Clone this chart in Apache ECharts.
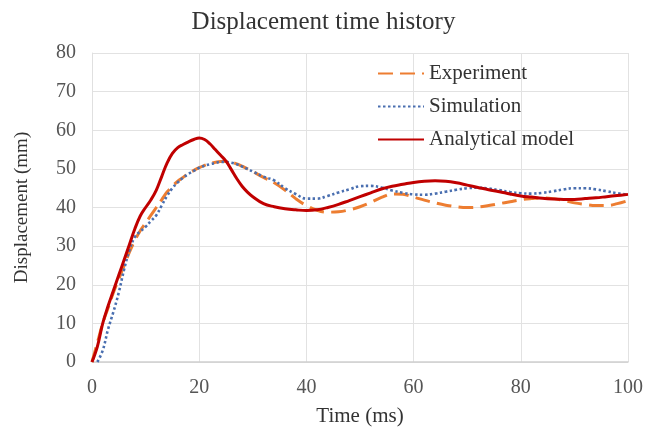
<!DOCTYPE html>
<html>
<head>
<meta charset="utf-8">
<script src="https://cdn.jsdelivr.net/npm/echarts@6/dist/echarts.min.js"></script>
<style>
html,body{margin:0;padding:0;background:#fff;}
#c{width:647px;height:432px;}
</style>
</head>
<body>
<div id="c"></div>
<script>
var times = [0,1,2,3,4,5,6,7,8,9,10,11,12,13,14,15,16,17,18,19,20,21,22,23,24,25,26,27,28,29,30,32,34,36,38,40,42,44,46,48,50,52,54,56,58,60,62,64,66,68,70,72,74,76,78,80,82,84,86,88,90,92,94,96,98,100];
var experiment = [0,5,10,14,18,21.5,25,28.5,31.5,34,36,38,40,42,44,45.5,46.8,47.8,48.8,49.6,50.3,50.9,51.4,51.7,51.9,51.9,51.7,51.3,50.7,50,49.3,47.8,46.4,44.5,42.3,40.5,39.3,38.8,38.9,39.4,40.2,41.3,42.6,43.5,43.4,42.7,41.9,41.2,40.6,40.2,40,40.1,40.5,41,41.5,42,42.3,42.5,42.3,41.8,41.2,40.8,40.5,40.5,41,41.8];
var simulation = [null,0,3,8.5,13,18,24,29,32.4,33.8,35,36.5,38,40.5,43,45,46.5,47.7,48.7,49.5,50.3,50.8,51.2,51.5,51.8,51.8,51.6,51.2,50.6,50,49.3,48,47,45,43.5,42.3,42.3,43,43.9,44.7,45.5,45.6,45.2,44.4,43.8,43.4,43.3,43.6,44.1,44.6,45,45.1,44.9,44.5,44,43.7,43.6,43.8,44.2,44.7,45,45,44.7,44.2,43.7,43.3];
var analytical = [0,4,10,14.5,18.5,22.5,26.5,30.5,34.5,37.8,40,42,44.5,48,51.5,54,55.5,56.3,57,57.6,58,57.6,56.5,55,53.5,52,49.8,47.5,45.5,44,42.8,41,40.2,39.7,39.4,39.2,39.4,40,40.8,41.8,42.8,43.8,44.8,45.5,46,46.5,46.8,46.9,46.8,46.4,45.8,45.2,44.6,44.1,43.5,43,42.7,42.4,42.2,42.1,42.1,42.3,42.5,42.8,43.1,43.4];
var seriesNames = ['Experiment','Simulation','Analytical model'];

function pairs(vals){ return times.map(function(t,i){ return [t, vals[i]]; }); }

var font = 'Liberation Serif, Times New Roman, serif';
var chart = echarts.init(document.getElementById('c'), null, {renderer:'canvas'});
chart.setOption({
  animation:false,
  backgroundColor:'#fff',
  title:{
    text:'Displacement time history',
    left:'center', top:5,
    textStyle:{fontFamily:font, fontSize:25, fontWeight:'normal', color:'#333'}
  },
  legend:{
    orient:'vertical',
    left:372, top:58,
    itemWidth:46, itemHeight:14, itemGap:12,
    data:seriesNames,
    itemStyle:{opacity:0},
    textStyle:{fontFamily:font, fontSize:21, color:'#333', lineHeight:21}
  },
  grid:{left:92, right:19, top:53, bottom:70, containLabel:false},
  xAxis:{
    type:'value', min:0, max:100, interval:20,
    name:'Time (ms)', nameLocation:'middle', nameGap:44,
    nameTextStyle:{fontFamily:font, fontSize:21, color:'#333'},
    axisLine:{show:true, lineStyle:{color:'#d0d0d0', width:1.5}},
    axisTick:{show:false},
    axisLabel:{fontFamily:font, fontSize:20, color:'#555', margin:16},
    splitLine:{show:true, lineStyle:{color:'#e2e2e2', width:1}}
  },
  yAxis:{
    type:'value', min:0, max:80, interval:10,
    name:'Displacement (mm)', nameLocation:'middle', nameGap:60,
    nameTextStyle:{fontFamily:font, fontSize:19, color:'#333'},
    axisLine:{show:true, lineStyle:{color:'#e0e0e0', width:1}},
    axisTick:{show:false},
    axisLabel:{fontFamily:font, fontSize:20, color:'#555', margin:16},
    splitLine:{show:true, lineStyle:{color:'#e2e2e2', width:1}}
  },
  series:[
    {name:seriesNames[0], type:'line', data:pairs(experiment), smooth:0.4, symbol:'none',
     lineStyle:{color:'#ED7D31', width:3, type:[15,7]}, itemStyle:{color:'#ED7D31'}},
    {name:seriesNames[1], type:'line', data:pairs(simulation), smooth:0.4, symbol:'none', connectNulls:false,
     lineStyle:{color:'#4A6FB0', width:2.6, type:[2.5,2.5]}, itemStyle:{color:'#4A6FB0'}},
    {name:seriesNames[2], type:'line', data:pairs(analytical), smooth:0.4, symbol:'none',
     lineStyle:{color:'#C00000', width:3}, itemStyle:{color:'#C00000'}}
  ]
});
</script>
</body>
</html>
